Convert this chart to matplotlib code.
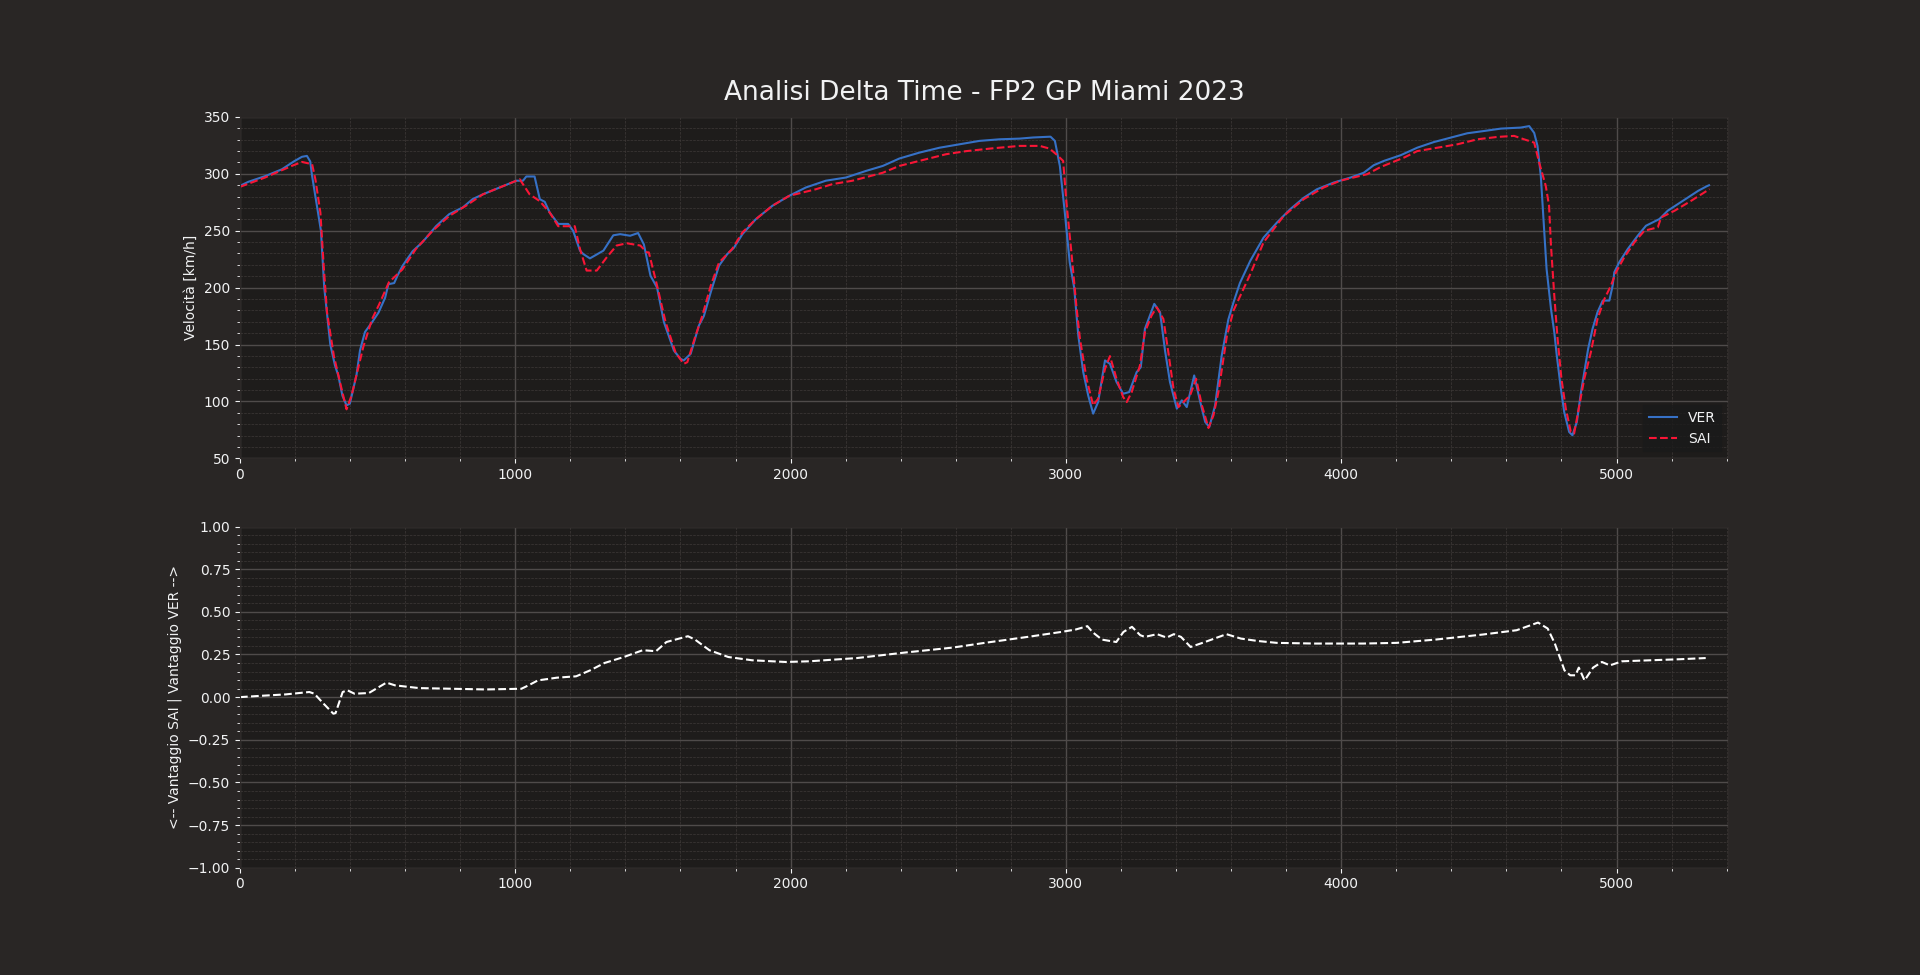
import numpy as np
import matplotlib.pyplot as plt
from matplotlib.ticker import AutoMinorLocator, MultipleLocator

# Distanza [m] e velocità [km/h] - VER
dist_ver = [0, 30, 91, 152, 196, 225, 243, 255, 262, 294, 306, 328, 345, 357, 372, 387, 399,
            423, 436, 454, 478, 503, 527, 539, 560, 572, 590, 627, 663, 712, 760, 809, 845,
            882, 943, 1004, 1028, 1040, 1070, 1089, 1107, 1125, 1156, 1192, 1210, 1235, 1247,
            1271, 1320, 1356, 1381, 1417, 1446, 1467, 1491, 1515, 1540, 1576, 1600, 1612, 1637,
            1667, 1685, 1710, 1740, 1770, 1794, 1825, 1873, 1934, 1995, 2055, 2128, 2201, 2274,
            2335, 2395, 2468, 2541, 2614, 2686, 2759, 2832, 2881, 2944, 2960, 2978, 2996, 3014,
            3030, 3045, 3063, 3081, 3099, 3117, 3142, 3160, 3184, 3208, 3230, 3257, 3272, 3287,
            3305, 3321, 3342, 3360, 3378, 3403, 3421, 3439, 3466, 3488, 3506, 3521, 3542, 3566,
            3590, 3610, 3632, 3670, 3718, 3767, 3815, 3864, 3912, 3973, 4034, 4082, 4118, 4155,
            4216, 4276, 4337, 4398, 4458, 4519, 4580, 4652, 4683, 4701, 4713, 4725, 4737, 4746,
            4762, 4774, 4783, 4798, 4810, 4828, 4840, 4856, 4871, 4897, 4913, 4931, 4950, 4974,
            4986, 4992, 5010, 5041, 5077, 5107, 5156, 5186, 5241, 5296, 5326, 5336]
speed_ver = [289.5, 293, 298, 304, 311, 315, 315.8, 311, 298, 250, 200, 150, 131.6, 122.8, 105,
             96.5, 98, 123, 145, 161, 169, 178, 191, 203, 204, 210.5, 219, 232, 240, 254, 264.6,
             270.5, 277.8, 282, 288, 294, 294, 297.7, 297.7, 277.8, 275.4, 266, 256, 256, 250,
             232.5, 229.5, 225.7, 232.5, 246, 247, 245.6, 248, 238, 210.5, 200, 169.6, 144.7,
             137.4, 136, 141.8, 166.7, 175, 196, 219.3, 229.5, 235, 247, 260, 272, 280.7, 288,
             294, 296.8, 302.6, 307, 313.5, 318.7, 323, 326, 329, 330.4, 331, 332, 332.7, 329,
             307, 266, 222, 200, 158, 125.7, 105.2, 89.2, 99.4, 136, 133, 117, 106.7, 108.2,
             125.7, 130, 163.7, 175.4, 185.7, 178.4, 144.7, 117, 93.6, 100.9, 95, 122.8, 99.4,
             81.9, 77.5, 96.5, 140.3, 172, 188, 204, 223.7, 244, 257.3, 269, 279, 286.5, 292.4,
             296.8, 301, 307.6, 311.4, 316.4, 323, 328, 331.9, 335.7, 337.7, 339.8, 340.7, 342,
             336, 324.6, 298.3, 251.5, 216.4, 181.3, 160.8, 140.4, 111.1, 90.7, 73.1, 70.2, 81.9,
             108.2, 146.2, 163.8, 178.4, 188.6, 188.6, 201.8, 213.5, 222.3, 234, 245.6, 254.4,
             260.3, 267.6, 276.3, 285, 288.9, 290]

# Distanza [m] e velocità [km/h] - SAI
dist_sai = [0, 91, 188, 225, 262, 274, 292, 304, 316, 341, 365, 387, 405, 425, 448, 480, 505,
            541, 590, 639, 700, 760, 821, 882, 943, 1004, 1016, 1052, 1089, 1125, 1156, 1216,
            1235, 1259, 1296, 1332, 1368, 1405, 1454, 1478, 1485, 1515, 1546, 1582, 1612, 1625,
            1655, 1679, 1710, 1740, 1788, 1825, 1873, 1934, 1995, 2092, 2152, 2225, 2335, 2395,
            2468, 2565, 2638, 2735, 2832, 2905, 2941, 2966, 2990, 3002, 3020, 3038, 3051, 3075,
            3099, 3117, 3142, 3160, 3184, 3208, 3221, 3239, 3269, 3287, 3311, 3330, 3354, 3372,
            3391, 3409, 3427, 3451, 3473, 3494, 3518, 3536, 3554, 3585, 3609, 3670, 3718, 3791,
            3864, 3936, 3997, 4094, 4143, 4228, 4276, 4349, 4422, 4495, 4568, 4628, 4664, 4701,
            4719, 4743, 4755, 4762, 4774, 4786, 4800, 4816, 4834, 4846, 4865, 4883, 4907, 4931,
            4956, 4980, 4998, 5028, 5065, 5101, 5150, 5162, 5211, 5271, 5338]
speed_sai = [288.6, 296.8, 307, 310.5, 308.5, 295, 266, 219.3, 178.4, 140, 115, 93, 105, 125,
             148, 172.5, 185, 204.7, 216, 234, 250, 263, 272, 282, 288, 294, 295.3, 282, 276,
             266, 254, 254, 234, 215, 215, 226.6, 237, 239, 237, 231, 231, 201.8, 169.6, 143,
             133, 134.5, 158, 175, 201.8, 222, 234, 248.5, 260, 272, 280.7, 286.5, 291, 294,
             301, 307, 311.4, 317.3, 320, 322.5, 324.6, 324.6, 322.2, 317, 311.4, 274.8, 231,
             184, 155, 119.9, 96.5, 102.3, 128.6, 139.8, 119.9, 103.8, 99.4, 108.2, 131.6,
             160.8, 175.4, 182.7, 172.5, 143.3, 111, 95, 99.4, 105.2, 119.9, 96.5, 76.6, 87.7,
             108.2, 157.9, 180, 212, 239.8, 263, 277.8, 288, 294, 299.7, 306, 314.3, 320, 323,
             326, 330.4, 332.5, 333.4, 330.4, 327.5, 310, 289.5, 272, 236.9, 193, 155, 119.9,
             93.6, 73.1, 71.7, 96.5, 119.9, 143.3, 172.5, 190, 201.8, 213.5, 226.6, 239.8, 250,
             253, 261.7, 267.6, 276.3, 286.6]

# Delta time [s]
dist_delta = [0, 79, 166, 252, 270, 304, 339, 347, 373, 390, 416, 468, 494, 532, 563, 650, 771,
              892, 1022, 1048, 1082, 1151, 1221, 1272, 1324, 1394, 1463, 1511, 1549, 1627, 1653,
              1705, 1774, 1860, 1982, 2068, 2241, 2414, 2587, 2705, 2861, 2983, 3035, 3078, 3096,
              3131, 3183, 3209, 3240, 3270, 3287, 3331, 3366, 3392, 3418, 3453, 3505, 3583, 3636,
              3697, 3766, 3905, 4080, 4201, 4341, 4515, 4637, 4715, 4750, 4776, 4811, 4832, 4851,
              4863, 4884, 4915, 4947, 4976, 5020, 5124, 5229, 5324]
delta = [0.0, 0.008, 0.016, 0.030, 0.020, -0.039, -0.097, -0.094, 0.030, 0.040, 0.020, 0.024,
         0.049, 0.085, 0.069, 0.053, 0.049, 0.045, 0.049, 0.069, 0.098, 0.114, 0.122, 0.157,
         0.200, 0.235, 0.275, 0.269, 0.323, 0.357, 0.337, 0.275, 0.235, 0.216, 0.206, 0.210,
         0.229, 0.261, 0.290, 0.318, 0.353, 0.382, 0.396, 0.416, 0.382, 0.337, 0.323, 0.382,
         0.412, 0.363, 0.353, 0.369, 0.349, 0.369, 0.353, 0.294, 0.323, 0.369, 0.343, 0.329,
         0.318, 0.314, 0.314, 0.318, 0.337, 0.367, 0.392, 0.437, 0.402, 0.314, 0.157, 0.128,
         0.128, 0.173, 0.098, 0.173, 0.206, 0.186, 0.210, 0.216, 0.222, 0.229]

# stile scuro
plt.rcParams['figure.facecolor'] = '#292625'
plt.rcParams['axes.facecolor'] = '#1e1c1b'
plt.rcParams['axes.edgecolor'] = '#2d2928'
plt.rcParams['xtick.color'] = '#f1f2f3'
plt.rcParams['ytick.color'] = '#f1f2f3'
plt.rcParams['axes.labelcolor'] = '#f1f2f3'
plt.rcParams['text.color'] = '#f1f2f3'

fig, ax = plt.subplots(2, 1, figsize=(19.2, 9.75), dpi=100)

ax[0].plot(dist_ver, speed_ver, color='#3671C6', label='VER', linewidth=1.5)
ax[0].plot(dist_sai, speed_sai, color='#F91536', linestyle='--', label='SAI', linewidth=1.5)
ax[0].set_ylabel('Velocità [km/h]')
ax[0].set_ylim(50, 350)
ax[0].yaxis.set_major_locator(MultipleLocator(50))
ax[0].legend(loc='lower right', fancybox=False, facecolor=(0.1, 0.1, 0.1, 0.7),
             edgecolor=(0.1, 0.1, 0.1, 0.9), labelcolor='#f1f2f3')
ax[0].set_title('Analisi Delta Time - FP2 GP Miami 2023', fontsize=19, pad=12.5)

ax[1].plot(dist_delta, delta, color='white', linestyle='--', linewidth=1.5)
ax[1].set_ylabel('<-- Vantaggio SAI | Vantaggio VER -->')
ax[1].set_ylim(-1, 1)
ax[1].yaxis.set_major_locator(MultipleLocator(0.25))

for a in ax:
    a.set_xlim(0, 5405)
    a.xaxis.set_major_locator(MultipleLocator(1000))
    a.xaxis.set_minor_locator(AutoMinorLocator(5))
    a.yaxis.set_minor_locator(AutoMinorLocator(5))
    a.set_axisbelow(True)
    a.grid(True, which='major', color='#4f4b4a', linestyle='-', linewidth=1)
    a.grid(True, which='minor', color='#3f3a38', linestyle='--', linewidth=0.5)

plt.savefig('out.png', dpi=100, facecolor=fig.get_facecolor())
